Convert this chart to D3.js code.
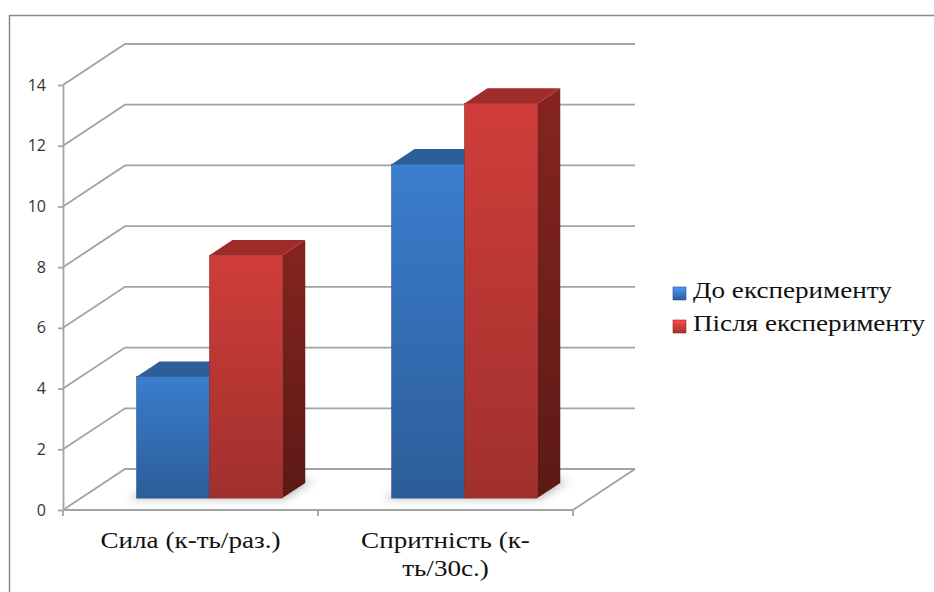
<!DOCTYPE html>
<html>
<head>
<meta charset="utf-8">
<script src="https://cdn.jsdelivr.net/npm/d3@7"></script>
<style>
  html, body { margin: 0; padding: 0; background: #fff; }
  svg { display: block; }
  .serif { font-family: "Liberation Serif", "Tinos", "Times New Roman", serif; }
  .sans { font-family: "Open Sans", "Noto Sans", sans-serif; }
</style>
</head>
<body>
<svg id="chart" width="934" height="592"></svg>
<script>
// Chart data
const categories = ["Сила (к-ть/раз.)", "Спритність (к-ть/30с.)"];
const seriesNames = ["До експерименту", "Після експерименту"];
const beforeValues = [4, 11];
const afterValues = [8, 13];
const yTicks = [0, 2, 4, 6, 8, 10, 12, 14];

const svg = d3.select("#chart");
const W = 934, H = 592;
const textStretch = 1.13;   // serif axis labels are set slightly wide
const legendStretch = 1.18; // legend text is set a little wider still

// Plot frame (front plane) and oblique depth of the floor
const plot = { left: 63, right: 573, top: 85, bottom: 510 };
const depth = { dx: 62, dy: -41 };       // full floor depth offset
const barDepth = { from: 0.29, to: 0.66 }; // bars occupy this slice of the depth

const y = d3.scaleLinear().domain([0, 14]).range([plot.bottom, plot.top]);
const x = d3.scaleBand().domain(categories).range([plot.left, plot.right]);
const xs = d3.scaleBand().domain(seriesNames).range([0, x.bandwidth()])
  .paddingInner(0).paddingOuter(0.75);

const series = [
  { name: seriesNames[0], values: beforeValues,
    front: ["#3b7dcf", "#2c5d99"], top: "#2e5e98", side: ["#24497a", "#1b3760"], key: "blue" },
  { name: seriesNames[1], values: afterValues,
    front: ["#cf3d3a", "#a0302d"], top: "#9f2c29", side: ["#86241f", "#5c1916"], key: "red" }
];

const defs = svg.append("defs");
series.forEach(s => {
  const gf = defs.append("linearGradient").attr("id", "front-" + s.key)
    .attr("x1", 0).attr("y1", 0).attr("x2", 0).attr("y2", 1);
  gf.append("stop").attr("offset", 0).attr("stop-color", s.front[0]);
  gf.append("stop").attr("offset", 1).attr("stop-color", s.front[1]);
  const gs = defs.append("linearGradient").attr("id", "side-" + s.key)
    .attr("x1", 0).attr("y1", 0).attr("x2", 0).attr("y2", 1);
  gs.append("stop").attr("offset", 0).attr("stop-color", s.side[0]);
  gs.append("stop").attr("offset", 1).attr("stop-color", s.side[1]);
  const gl = defs.append("linearGradient").attr("id", "legend-" + s.key)
    .attr("x1", 0).attr("y1", 0).attr("x2", 0).attr("y2", 1);
  gl.append("stop").attr("offset", 0).attr("stop-color", d3.color(s.front[0]).brighter(0.6));
  gl.append("stop").attr("offset", 0.5).attr("stop-color", s.front[0]);
  gl.append("stop").attr("offset", 1).attr("stop-color", s.front[1]);
});
defs.append("filter").attr("id", "soft").attr("x", "-20%").attr("y", "-50%")
  .attr("width", "140%").attr("height", "200%")
  .append("feGaussianBlur").attr("stdDeviation", 4);

// Outer chart border
svg.append("rect")
  .attr("x", 9.5).attr("y", 15.5).attr("width", W + 20).attr("height", H + 20)
  .attr("fill", "none").attr("stroke", "#8a8a8a").attr("stroke-width", 1.5);

const gridColor = "#a3a3a3";
const gridWidth = 1.8;
const grid = svg.append("g").attr("stroke", gridColor).attr("stroke-width", gridWidth).attr("fill", "none");

// Back wall gridlines and their diagonal continuation on the side wall
yTicks.forEach(t => {
  const yy = y(t);
  grid.append("path").attr("d",
    `M${plot.left},${yy}L${plot.left + depth.dx},${yy + depth.dy}L${plot.right + depth.dx},${yy + depth.dy}`);
});
// Floor right edge
grid.append("path").attr("d",
  `M${plot.right},${plot.bottom}L${plot.right + depth.dx},${plot.bottom + depth.dy}`);

// Soft shadows on the floor under each pair of bars
const bars = svg.append("g");
categories.forEach((c, ci) => {
  const x0 = x(c) + xs(seriesNames[0]);
  const x1 = x(c) + xs(seriesNames[1]) + xs.bandwidth();
  const fx = depth.dx * barDepth.from, fy = depth.dy * barDepth.from;
  const bx = depth.dx * barDepth.to, by = depth.dy * barDepth.to;
  const yb = y(0);
  bars.append("path")
    .attr("d", `M${x0 + fx - 8},${yb + fy + 1}L${x1 + fx + 4},${yb + fy + 1}L${x1 + bx + 10},${yb + by - 3}L${x0 + bx},${yb + by}Z`)
    .attr("fill", "#6a6a6a").attr("opacity", 0.45).attr("filter", "url(#soft)");
});

// 3D columns: side face, top face, then front face
categories.forEach((c, ci) => {
  series.forEach(s => {
    const v = s.values[ci];
    const fx = depth.dx * barDepth.from, fy = depth.dy * barDepth.from;
    const bx = depth.dx * barDepth.to, by = depth.dy * barDepth.to;
    const L = x(c) + xs(s.name) + fx + 1;
    const R = L + xs.bandwidth();
    const T = y(v) + fy;
    const B = y(0) + fy;
    const ddx = bx - fx, ddy = by - fy;
    const g = bars.append("g");
    g.append("path")
      .attr("d", `M${R},${T}L${R + ddx},${T + ddy}L${R + ddx},${B + ddy}L${R},${B}Z`)
      .attr("fill", `url(#side-${s.key})`);
    g.append("path")
      .attr("d", `M${L},${T}L${L + ddx},${T + ddy}L${R + ddx},${T + ddy}L${R},${T}Z`)
      .attr("fill", s.top);
    g.append("rect")
      .attr("x", L).attr("y", T).attr("width", R - L).attr("height", B - T)
      .attr("fill", `url(#front-${s.key})`)
      .attr("stroke", d3.color(s.front[1]).darker(0.3)).attr("stroke-width", 0.6);
  });
});

// Y axis
const yAxis = d3.axisLeft(y).tickValues(yTicks).tickSize(5).tickSizeOuter(0).tickPadding(12);
const yg = svg.append("g").attr("transform", `translate(${plot.left},0)`).call(yAxis);
yg.attr("font-family", null).attr("font-size", null);
yg.select(".domain").attr("stroke", gridColor).attr("stroke-width", gridWidth);
yg.selectAll(".tick line").attr("stroke", gridColor).attr("stroke-width", gridWidth);
yg.selectAll(".tick text").attr("class", "sans")
  .attr("font-size", 16).attr("fill", "#333");

// X axis (front floor edge) with ticks at category boundaries
const xg = svg.append("g").attr("stroke", gridColor).attr("stroke-width", gridWidth);
xg.append("line").attr("x1", plot.left).attr("x2", plot.right)
  .attr("y1", plot.bottom).attr("y2", plot.bottom);
const boundaries = [x(categories[0])].concat(categories.map(c => x(c) + x.bandwidth()));
boundaries.forEach(bx => {
  xg.append("line").attr("x1", bx).attr("x2", bx)
    .attr("y1", plot.bottom).attr("y2", plot.bottom + 6);
});

// Category labels, wrapped after spaces/hyphens to fit the band
const maxLabel = x.bandwidth() * 0.8 / textStretch;
categories.forEach(c => {
  const cx = x(c) + x.bandwidth() / 2;
  const t = svg.append("g")
    .attr("transform", `translate(${cx},548) scale(${textStretch},1)`)
    .append("text").attr("class", "serif")
    .attr("text-anchor", "middle")
    .attr("font-size", 24).attr("fill", "#111");
  const tokens = c.match(/[^\s-]+-?\s*|\s+/g);
  let line = "";
  let tspan = t.append("tspan").attr("x", 0).attr("dy", 0);
  tokens.forEach(tok => {
    const trial = line + tok;
    tspan.text(trial.trimEnd());
    if (tspan.node().getComputedTextLength() > maxLabel && line) {
      tspan.text(line.trimEnd());
      line = tok;
      tspan = t.append("tspan").attr("x", 0).attr("dy", 28).text(tok.trimEnd());
    } else {
      line = trial;
    }
  });
});

// Legend
const legend = svg.append("g").attr("transform", "translate(673,287)");
series.forEach((s, i) => {
  const row = legend.append("g").attr("transform", `translate(0,${i * 33})`);
  row.append("rect").attr("width", 13).attr("height", 13)
    .attr("fill", `url(#legend-${s.key})`)
    .attr("stroke", d3.color(s.front[1]).darker(0.4)).attr("stroke-width", 0.6);
  row.append("g").attr("transform", `translate(20,11) scale(${legendStretch},1)`)
    .append("text").attr("class", "serif")
    .attr("font-size", 23).attr("fill", "#111")
    .text(s.name);
});
</script>
</body>
</html>
